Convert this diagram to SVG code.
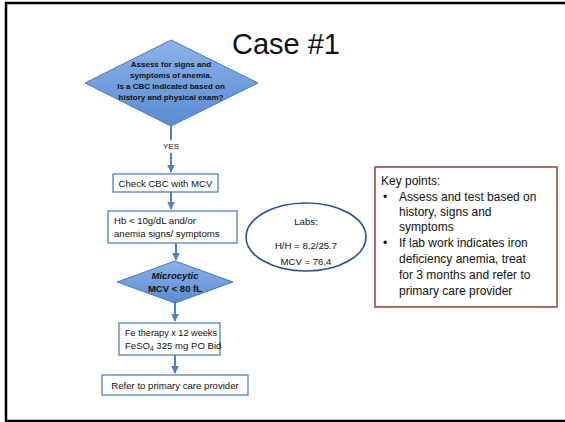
<svg xmlns="http://www.w3.org/2000/svg" width="565" height="422" viewBox="0 0 565 422">
<style>
text{font-family:"Liberation Sans",Arial,sans-serif;fill:#111}
.box{fill:#fff;stroke:#4f81bd;stroke-width:1.3}
.dia{fill:url(#g);stroke:#4a7ab8;stroke-width:1}
.con{stroke:#4f81bd;stroke-width:2;fill:none;marker-end:url(#ah)}
.t{font-size:9.6px}
.d{font-size:8px;font-weight:bold;text-anchor:middle}
.k{font-size:12px}
</style>
<defs>
<linearGradient id="g" x1="0" y1="0" x2="0" y2="1">
<stop offset="0" stop-color="#8cb2e8"/>
<stop offset="1" stop-color="#5a8bd2"/>
</linearGradient>
<marker id="ah" viewBox="0 0 10 10" refX="9" refY="5" markerWidth="4" markerHeight="4" orient="auto" markerUnits="strokeWidth">
<path d="M0,0 L10,5 L0,10 Z" fill="#4f81bd"/>
</marker>
</defs>
<rect x="6" y="3" width="600" height="418" fill="#fff" stroke="#000" stroke-width="2.5"/>
<text x="286" y="54" font-size="29" text-anchor="middle">Case #1</text>
<g id="connectors">
<line x1="171" y1="126" x2="171" y2="140" stroke="#4f81bd" stroke-width="2"/>
<text x="171" y="149" font-size="8" text-anchor="middle">YES</text>
<line class="con" x1="171" y1="153" x2="171" y2="172"/>
<line class="con" x1="171" y1="192" x2="171" y2="209"/>
<line class="con" x1="176" y1="243" x2="176" y2="260"/>
<line class="con" x1="175" y1="302" x2="175" y2="321"/>
<line class="con" x1="175" y1="355" x2="175" y2="373"/>
</g>
<g id="n1">
<polygon class="dia" points="171,40 258,83 171,126 85,83"/>
<text class="d" x="171" y="67">Assess for signs and</text>
<text class="d" x="171" y="78">symptoms of anemia.</text>
<text class="d" x="171" y="89">Is a CBC indicated based on</text>
<text class="d" x="171" y="100">history and physical exam?</text>
</g>
<g id="n2">
<rect class="box" x="113" y="174" width="105" height="18"/>
<text class="t" x="165.5" y="187" text-anchor="middle">Check CBC with MCV</text>
</g>
<g id="n3">
<rect class="box" x="108" y="211" width="129" height="32"/>
<text class="t" x="114" y="224">Hb &lt; 10g/dL and/or</text>
<text class="t" x="114" y="237">anemia signs/ symptoms</text>
</g>
<g id="n4">
<polygon class="dia" points="175,261 233,282 175,303 117,282"/>
<text x="175" y="279" font-size="9.5" font-weight="bold" font-style="italic" text-anchor="middle">Microcytic</text>
<text x="175" y="292" font-size="9.5" font-weight="bold" text-anchor="middle">MCV &lt; 80 fL</text>
</g>
<g id="n5">
<rect class="box" x="119" y="323" width="101" height="32"/>
<text class="t" x="125" y="336" textLength="92" lengthAdjust="spacingAndGlyphs">Fe therapy x 12 weeks</text>
<text class="t" x="125" y="349">FeSO<tspan font-size="6.5" dy="2">4</tspan><tspan dy="-2"> 325 mg PO Bid</tspan></text>
</g>
<g id="n6">
<rect class="box" x="102" y="375" width="146" height="20"/>
<text class="t" x="175" y="389" text-anchor="middle">Refer to primary care provider</text>
</g>
<g id="n7">
<ellipse cx="306" cy="237" rx="60" ry="34" fill="#fff" stroke="#2a5090" stroke-width="1.6"/>
<text class="t" x="306" y="225" text-anchor="middle">Labs:</text>
<text class="t" x="306" y="249" text-anchor="middle">H/H = 8.2/25.7</text>
<text class="t" x="306" y="265" text-anchor="middle">MCV = 76.4</text>
</g>
<g id="n8">
<rect x="375" y="167" width="182" height="140" fill="#fff" stroke="#a33a3a" stroke-width="1.5"/>
<text class="k" x="381" y="185">Key points:</text>
<text class="k" x="383" y="201">•</text>
<text class="k" x="399" y="201">Assess and test based on</text>
<text class="k" x="399" y="216">history, signs and</text>
<text class="k" x="399" y="231">symptoms</text>
<text class="k" x="383" y="247">•</text>
<text class="k" x="399" y="247">If lab work indicates iron</text>
<text class="k" x="399" y="263">deficiency anemia, treat</text>
<text class="k" x="399" y="279">for 3 months and refer to</text>
<text class="k" x="399" y="295">primary care provider</text>
</g>
</svg>
